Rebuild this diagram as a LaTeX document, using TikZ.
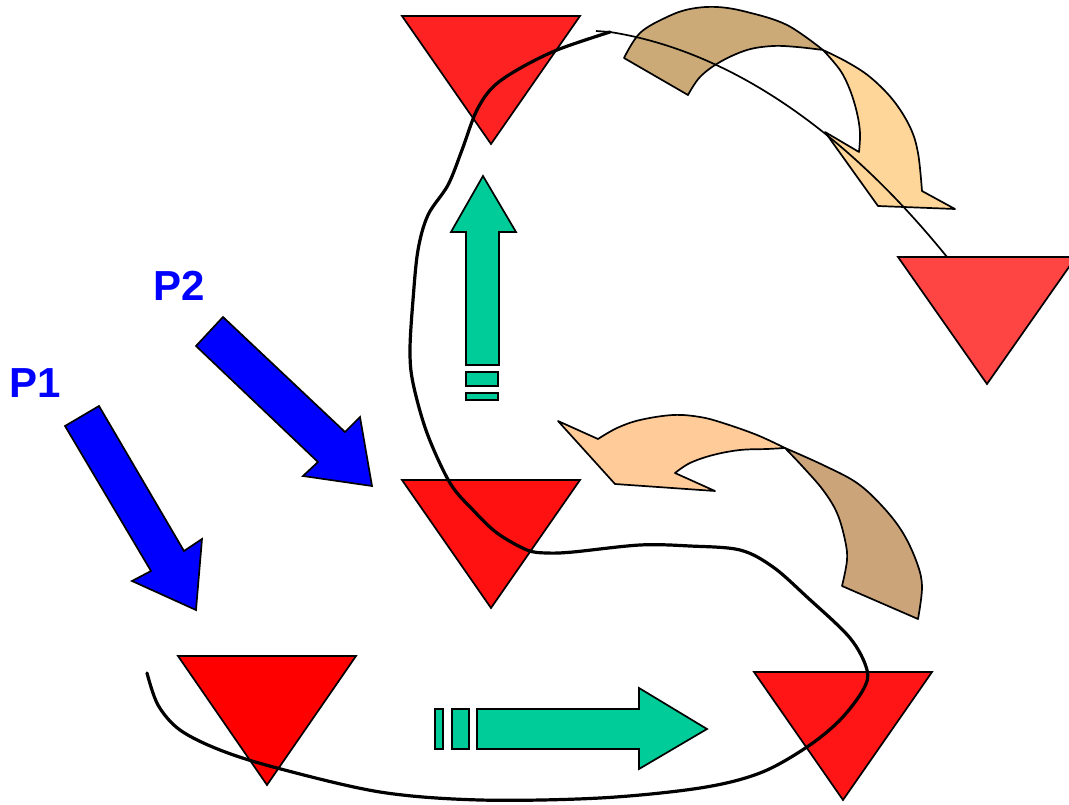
\documentclass[tikz,border=0pt]{standalone}
\usepackage{fontspec}
\setmainfont{Liberation Sans}
\definecolor{arrowgreen}{HTML}{00CC99}
\definecolor{tanA}{HTML}{CCAA77}
\definecolor{tanB}{HTML}{CCA47A}
\definecolor{peachA}{HTML}{FFD699}
\definecolor{peachB}{HTML}{FFCC99}
\definecolor{redA}{HTML}{FF2222}
\definecolor{redB}{HTML}{FF4444}
\definecolor{redC}{HTML}{FF1111}
\definecolor{redD}{HTML}{FF1515}
\begin{document}
\begin{tikzpicture}[x=1pt,y=-1pt,
  outline/.style={draw=black,line width=1.7pt,line join=miter},
  tri/.style={outline},
  greenarrow/.style={outline,fill=arrowgreen},
  bluearrow/.style={outline,fill=blue},
  ribbon/.style={outline,line join=round},
  plabel/.style={text=blue,font=\fontsize{42}{42}\selectfont\bfseries,inner sep=0pt},
  track/.style={draw=black,line width=3.2pt,line cap=round,line join=round},
  thinline/.style={draw=black,line width=1.7pt}]
\useasboundingbox (0,0) rectangle (1069,805);

% labels
\node[plabel,anchor=base west] (p1) at (9,397) {P1};
\node[plabel,anchor=base west] (p2) at (153,301) {P2};

% inverted triangles
\filldraw[tri,fill=redA] (402,16) -- (580,16) -- (491,144) -- cycle;
\filldraw[tri,fill=redB] (898,257) -- (1076,257) -- (987,384) -- cycle;
\filldraw[tri,fill=redC] (402,480) -- (580,480) -- (491,608) -- cycle;
\filldraw[tri,fill=red] (178,656) -- (356,656) -- (267,785) -- cycle;
\filldraw[tri,fill=redD] (754,672) -- (932,672) -- (843,800) -- cycle;

% blue arrows
\filldraw[bluearrow] (65,426) -- (99,406) -- (184,551) -- (202,539) -- (196,610)
  -- (132,581) -- (151,571) -- cycle;
\filldraw[bluearrow] (196,346) -- (223,317) -- (345,432) -- (360,417) -- (372,486)
  -- (303,476) -- (318,462) -- cycle;

% green arrow pointing up
\filldraw[greenarrow] (466,365) -- (466,232) -- (451,232) -- (483,176) -- (516,232)
  -- (499,232) -- (499,365) -- cycle;
\filldraw[greenarrow] (466,372) rectangle (498,386);
\filldraw[greenarrow] (466,393) rectangle (498,400);

% green arrow pointing right
\filldraw[greenarrow] (477,709) -- (639,709) -- (639,688) -- (707,729) -- (639,769)
  -- (639,749) -- (477,749) -- cycle;
\filldraw[greenarrow] (435,709) rectangle (443,749);
\filldraw[greenarrow] (452,709) rectangle (469,749);

% upper curved arrow: back side of the ribbon
\filldraw[ribbon,fill=tanA]
  plot[smooth,tension=0.6] coordinates {(624,58) (640,33) (667,17) (690,9) (717,7) (747,12) (787,25) (823,50)}
  -- plot[smooth,tension=0.6] coordinates {(823,50) (797,47) (773,46) (747,50) (720,62) (700,77) (688,95)}
  -- cycle;
% upper curved arrow: front side with head
\filldraw[ribbon,fill=peachA]
  plot[smooth,tension=0.6] coordinates {(823,50) (847,62) (870,77) (893,100) (910,127) (918,153) (922,191)}
  -- (955,209) -- (878,206) -- (825,132) -- (859,152)
  -- plot[smooth,tension=0.6] coordinates {(859,152) (860,133) (857,113) (850,90) (840,70) (823,50)}
  -- cycle;

% lower curved arrow: front side with head
\filldraw[ribbon,fill=peachB]
  plot[smooth,tension=0.6] coordinates {(785,448) (757,435) (723,423) (700,417) (673,415) (640,420) (617,428) (598,439)}
  -- (558,421) -- (615,484) -- (715,491) -- (675,473)
  -- plot[smooth,tension=0.6] coordinates {(675,473) (690,463) (713,455) (740,450) (767,449) (785,448)}
  -- cycle;
% lower curved arrow: back side of the ribbon
\filldraw[ribbon,fill=tanB]
  plot[smooth,tension=0.6] coordinates {(785,448) (823,465) (857,483) (883,507) (903,533) (917,563) (922,587) (918,619)}
  -- (842,586)
  -- plot[smooth,tension=0.6] coordinates {(842,586) (847,560) (845,540) (837,513) (823,490) (803,467) (785,448)}
  -- cycle;

% the winding track
\path[track] plot[smooth,tension=0.55] coordinates {
  (147,673) (158,705) (180,730) (220,750) (277,768) (380,792) (480,800) (600,798)
  (700,788) (760,773) (807,747) (840,720) (863,690) (867,670) (850,638)
  (807,597) (773,567) (740,550) (690,546) (640,545) (573,552) (547,553) (527,550)
  (497,533) (473,510) (450,483) (427,433) (413,383) (410,350) (413,300) (418,250)
  (428,215) (448,185) (462,150) (476,112) (492,88) (517,70) (557,50) (610,32)};
\coordinate (trackend) at (610,32);
\coordinate (tick) at (596,31);
\coordinate (t2top) at (947,257);
\draw[thinline] (tick) -- (trackend);
\draw[thinline] (trackend) .. controls (725,50) and (840,125) .. (t2top);
\end{tikzpicture}
\end{document}
